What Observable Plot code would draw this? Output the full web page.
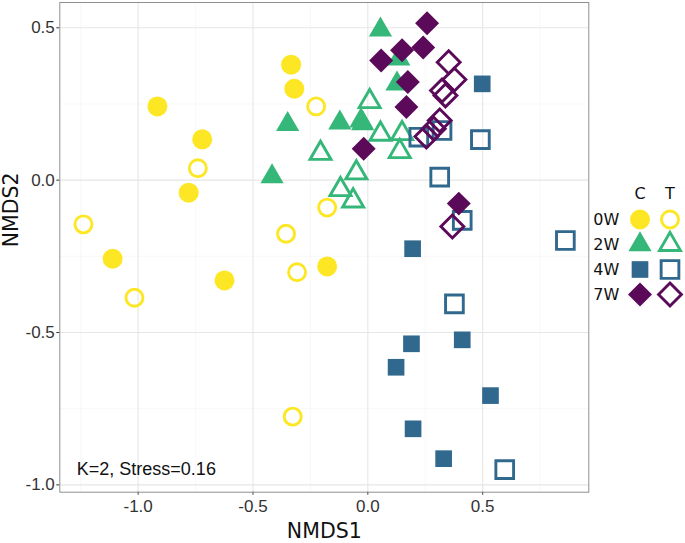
<!DOCTYPE html>
<html><head><meta charset="utf-8">
<script src="https://cdn.jsdelivr.net/npm/d3@7"></script>
<script src="https://cdn.jsdelivr.net/npm/@observablehq/plot@0.6"></script>
<style>body{margin:0;background:#fff}#chart svg{display:block}</style>
</head><body><div id="chart"></div>
<script>
// ---- data ----
const weeks = ["0W", "2W", "4W", "7W"];
const treatments = ["C", "T"];
const xTicks = [-1.0, -0.5, 0.0, 0.5];
const yTicks = [-1.0, -0.5, 0.0, 0.5];
const xMinor = [-1.25, -0.75, -0.25, 0.25, 0.75];
const yMinor = [-0.75, -0.25, 0.25];
const xTitle = "NMDS1";
const yTitle = "NMDS2";
const note = "K=2, Stress=0.16";

const w0C = [[-0.334, 0.379], [-0.320, 0.300], [-0.916, 0.242], [-0.721, 0.134], [-0.780, -0.041], [-1.111, -0.258], [-0.624, -0.329], [-0.177, -0.283]];
const w0T = [[-0.225, 0.242], [-0.740, 0.039], [-1.238, -0.145], [-0.177, -0.090], [-0.356, -0.176], [-1.016, -0.386], [-0.308, -0.302], [-0.327, -0.776]];
const w2C = [[0.055, 0.493], [0.135, 0.398], [0.127, 0.316], [-0.349, 0.183], [-0.417, 0.012], [-0.122, 0.188], [-0.030, 0.195], [-0.022, 0.186]];
const w2T = [[0.008, 0.258], [-0.206, 0.088], [0.055, 0.151], [0.149, 0.153], [0.139, 0.094], [-0.050, 0.024], [-0.119, -0.031], [-0.064, -0.068]];
const w4C = [[0.498, 0.316], [0.195, -0.225], [0.411, -0.524], [0.190, -0.537], [0.123, -0.614], [0.534, -0.707], [0.197, -0.816], [0.330, -0.914]];
const w4T = [[0.490, 0.133], [0.313, 0.010], [0.222, 0.141], [0.323, 0.163], [0.411, -0.132], [0.860, -0.198], [0.377, -0.406], [0.596, -0.950]];
const w7C = [[0.258, 0.515], [0.149, 0.426], [0.241, 0.435], [0.058, 0.393], [0.174, 0.322], [0.168, 0.240], [-0.018, 0.103], [0.396, -0.077]];
const w7T = [[0.352, 0.387], [0.377, 0.330], [0.323, 0.294], [0.338, 0.278], [0.313, 0.196], [0.287, 0.169], [0.255, 0.143], [0.368, -0.152]];

// ---- styles ----
const colors = {"0W": "#FDE725", "2W": "#35B779", "4W": "#31688E", "7W": "#5A0A58"};
const shapes = {"0W": "circle", "2W": "triangle", "4W": "square", "7W": "diamond2"};
const rFilled = {circle: 10, triangle: 8.6, square: 9.4, diamond2: 10.8};
const rOpen = {circle: 8.5, triangle: 7.8, square: 10, diamond2: 10.3};
const openWidth = 2.9;

const series = [
  ["0W", "C", w0C], ["0W", "T", w0T],
  ["2W", "C", w2C], ["2W", "T", w2T],
  ["4W", "C", w4C], ["4W", "T", w4T],
  ["7W", "C", w7C], ["7W", "T", w7T]
];

const W = 685, H = 543;
const mL = 59.3, mR = 96.7, mT = 2, mB = 51.3;
const tickFont = "Liberation Sans, Arial, sans-serif";
const titleFont = "DejaVu Sans, Verdana, sans-serif";

function dotStyle(week, trt) {
  const s = shapes[week];
  return trt === "C"
    ? {symbol: s, r: rFilled[s], fill: colors[week], stroke: "none"}
    : {symbol: s, r: rOpen[s], fill: "none", stroke: colors[week], strokeWidth: openWidth};
}

const marks = [
  Plot.gridX(xMinor, {stroke: "#f3f3f3", strokeOpacity: 1, strokeWidth: 0.6}),
  Plot.gridY(yMinor, {stroke: "#f3f3f3", strokeOpacity: 1, strokeWidth: 0.6}),
  Plot.gridX(xTicks, {stroke: "#e6e6e6", strokeOpacity: 1, strokeWidth: 1.1}),
  Plot.gridY(yTicks, {stroke: "#e6e6e6", strokeOpacity: 1, strokeWidth: 1.1}),
  Plot.axisX({ticks: xTicks, tickFormat: d => d.toFixed(1), tickSize: 3, tickPadding: 5,
    fontSize: 17, fontFamily: tickFont, color: "#333", label: null}),
  Plot.axisY({ticks: yTicks, tickFormat: d => d.toFixed(1), tickSize: 3, tickPadding: 2,
    fontSize: 17, fontFamily: tickFont, color: "#333", label: null}),
  Plot.frame({stroke: "#8f8f8f", strokeWidth: 1})
];

for (const [week, trt, pts] of series) {
  marks.push(Plot.dot(pts, {x: d => d[0], y: d => d[1], ...dotStyle(week, trt)}));
}

// annotation
marks.push(Plot.text([note], {frameAnchor: "bottom-left", dx: 17, dy: -23, text: d => d,
  textAnchor: "start", lineAnchor: "middle", fontSize: 18, fontFamily: tickFont, fill: "#111"}));

// axis titles
marks.push(Plot.text([xTitle], {frameAnchor: "bottom", dy: 39.5, text: d => d,
  lineAnchor: "middle", fontSize: 20.5, fontFamily: titleFont, fill: "#111"}));
marks.push(Plot.text([yTitle], {frameAnchor: "left", dx: -48, text: d => d, rotate: -90,
  lineAnchor: "middle", fontSize: 20.5, fontFamily: titleFont, fill: "#111"}));

// legend (offsets relative to the top-right corner of the panel)
const legColX = [51.2, 81.2];
const legRow0 = 217, legRowStep = 25, legHeaderY = 191.3;
treatments.forEach((t, j) => {
  marks.push(Plot.text([t], {frameAnchor: "top-right", dx: legColX[j], dy: legHeaderY, text: d => d,
    textAnchor: "middle", lineAnchor: "middle", fontSize: 16, fontFamily: titleFont, fill: "#111"}));
});
weeks.forEach((w, i) => {
  const dy = legRow0 + i * legRowStep;
  marks.push(Plot.text([w], {frameAnchor: "top-right", dx: 4.5, dy, text: d => d,
    textAnchor: "start", lineAnchor: "middle", fontSize: 16, fontFamily: titleFont, fill: "#111"}));
  treatments.forEach((t, j) => {
    marks.push(Plot.dot([0], {frameAnchor: "top-right", dx: legColX[j], dy, ...dotStyle(w, t)}));
  });
});

const chart = Plot.plot({
  width: W, height: H,
  marginLeft: mL, marginRight: mR, marginTop: mT, marginBottom: mB,
  x: {domain: [-1.341, 0.962]},
  y: {domain: [-1.024, 0.583]},
  style: {background: "#fff"},
  marks
});
document.getElementById("chart").append(chart);
</script>
</body></html>
